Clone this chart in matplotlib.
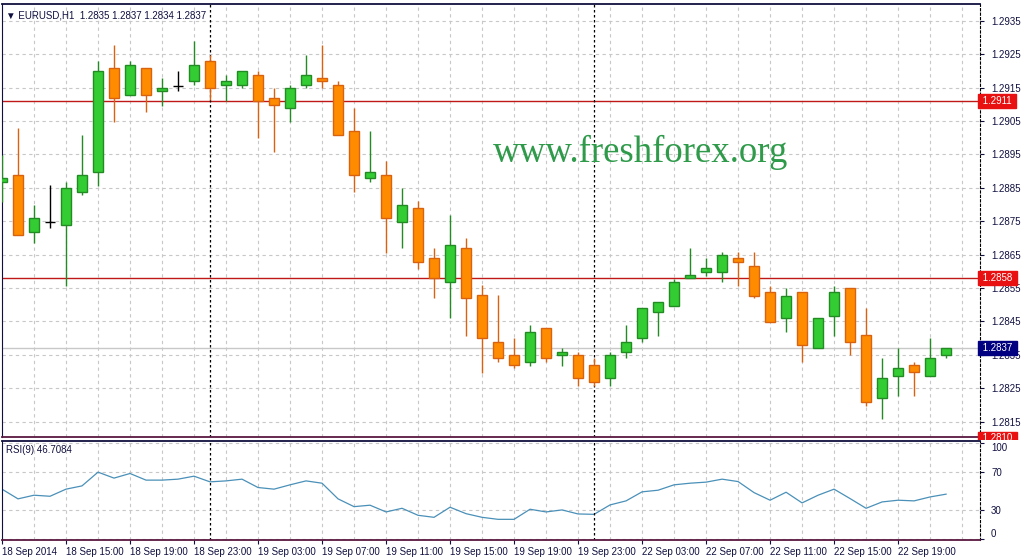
import matplotlib
matplotlib.use("Agg")
import matplotlib.pyplot as plt
import matplotlib.transforms as mtransforms
import numpy as np

plt.rcParams['font.family'] = ['Liberation Sans', 'DejaVu Sans']

# EURUSD H1 candles, 18 Sep 11:00 .. 22 Sep 22:00
opens = [1.28867, 1.28888, 1.28717, 1.28749, 1.28739, 1.28838, 1.28898, 1.29208, 1.29127, 1.29208,
         1.29139, 1.29155, 1.29169, 1.29229, 1.29157, 1.29157, 1.29188, 1.29118, 1.29088, 1.29157,
         1.29178, 1.29158, 1.29020, 1.28878, 1.28888, 1.28749, 1.28789, 1.28639, 1.28567, 1.28669,
         1.28529, 1.28388, 1.28350, 1.28328, 1.28430, 1.28348, 1.28350, 1.28320, 1.28280, 1.28358,
         1.28400, 1.28477, 1.28497, 1.28579, 1.28597, 1.28597, 1.28639, 1.28617, 1.28537, 1.28460,
         1.28537, 1.28370, 1.28467, 1.28549, 1.28410, 1.28220, 1.28288, 1.28320, 1.28288, 1.28350]
highs = [1.28948, 1.29028, 1.28799, 1.28858, 1.28868, 1.29008, 1.29229, 1.29277, 1.29229, 1.29208,
         1.29179, 1.29199, 1.29289, 1.29247, 1.29188, 1.29199, 1.29199, 1.29148, 1.29158, 1.29247,
         1.29277, 1.29170, 1.29090, 1.29020, 1.28930, 1.28849, 1.28811, 1.28669, 1.28769, 1.28699,
         1.28559, 1.28529, 1.28400, 1.28439, 1.28430, 1.28370, 1.28358, 1.28340, 1.28358, 1.28439,
         1.28489, 1.28507, 1.28577, 1.28669, 1.28639, 1.28657, 1.28659, 1.28659, 1.28557, 1.28549,
         1.28537, 1.28460, 1.28557, 1.28549, 1.28489, 1.28340, 1.28370, 1.28328, 1.28400, 1.28370]
lows = [1.28808, 1.28709, 1.28686, 1.28729, 1.28556, 1.28828, 1.28856, 1.29048, 1.29127, 1.29078,
        1.29095, 1.29140, 1.29158, 1.29113, 1.29110, 1.29148, 1.28998, 1.28958, 1.29048, 1.29148,
        1.29148, 1.29008, 1.28838, 1.28868, 1.28656, 1.28669, 1.28607, 1.28519, 1.28460, 1.28407,
        1.28297, 1.28328, 1.28310, 1.28318, 1.28328, 1.28318, 1.28258, 1.28258, 1.28258, 1.28340,
        1.28388, 1.28407, 1.28497, 1.28579, 1.28587, 1.28567, 1.28557, 1.28519, 1.28448, 1.28418,
        1.28328, 1.28370, 1.28407, 1.28348, 1.28198, 1.28158, 1.28228, 1.28228, 1.28288, 1.28340]
closes = [1.28879, 1.28709, 1.28759, 1.28749, 1.28849, 1.28888, 1.29199, 1.29118, 1.29217, 1.29127,
          1.29148, 1.29155, 1.29217, 1.29148, 1.29170, 1.29199, 1.29110, 1.29098, 1.29148, 1.29188,
          1.29169, 1.29008, 1.28888, 1.28898, 1.28759, 1.28799, 1.28627, 1.28579, 1.28678, 1.28519,
          1.28400, 1.28340, 1.28320, 1.28418, 1.28340, 1.28358, 1.28280, 1.28268, 1.28350, 1.28388,
          1.28489, 1.28507, 1.28567, 1.28589, 1.28609, 1.28648, 1.28627, 1.28527, 1.28448, 1.28527,
          1.28380, 1.28460, 1.28537, 1.28388, 1.28208, 1.28280, 1.28310, 1.28298, 1.28340, 1.28370]

# RSI(9)
rsi = [51.9, 41.8, 45.6, 44.5, 51.9, 55.3, 69.6, 63.4, 68.2, 61.3,
       61.3, 62.3, 65.4, 59.5, 60.5, 62.3, 53.6, 51.9, 56.4, 60.5,
       58.1, 41.8, 33.7, 35.2, 28.2, 32.0, 24.7, 22.6, 33.1, 26.4,
       22.6, 20.5, 20.5, 31.0, 28.2, 30.3, 26.1, 25.7, 35.5, 39.7,
       49.1, 50.8, 56.4, 58.1, 59.2, 62.3, 59.8, 48.3, 40.4, 48.7,
       37.6, 45.6, 51.9, 42.1, 32.0, 38.6, 40.4, 39.7, 43.8, 46.7]

time_labels = ["18 Sep 2014", "18 Sep 15:00", "18 Sep 19:00", "18 Sep 23:00", "19 Sep 03:00",
               "19 Sep 07:00", "19 Sep 11:00", "19 Sep 15:00", "19 Sep 19:00", "19 Sep 23:00",
               "22 Sep 03:00", "22 Sep 07:00", "22 Sep 11:00", "22 Sep 15:00", "22 Sep 19:00"]
price_ticks = [1.2935, 1.2925, 1.2915, 1.2905, 1.2895, 1.2885, 1.2875, 1.2865,
               1.2855, 1.2845, 1.2835, 1.2825, 1.2815]
levels = [1.2911, 1.2858]
low_mark = 1.2810
separators = [13, 37]   # day separators (bar index)

W, H = 1023, 557
fig = plt.figure(figsize=(W / 100, H / 100), dpi=100)
ax = fig.add_axes([2 / W, (H - 437) / H, 978 / W, 433 / H])
ax2 = fig.add_axes([2 / W, (H - 540) / H, 978 / W, 99 / H])

txt = '#101040'
up_fill, up_edge = '#33cc33', '#238b23'
dn_fill, dn_edge = '#ff8c00', '#d9620f'
grid_kw = dict(color='#c8c8c8', linestyle=(0, (3, 3)), linewidth=0.8)

x = np.arange(len(opens))
o = np.array(opens); c = np.array(closes)
hi = np.array(highs); lo = np.array(lows)
up = c > o
dn = c < o
doji = c == o

# wicks
ax.vlines(x[up], lo[up], hi[up], color=up_edge, linewidth=1, zorder=3)
ax.vlines(x[dn], lo[dn], hi[dn], color=dn_edge, linewidth=1, zorder=3)
ax.vlines(x[doji], lo[doji], hi[doji], color='black', linewidth=1, zorder=3)
ax.hlines(o[doji], x[doji] - 0.32, x[doji] + 0.32, color='black', linewidth=1, zorder=3)
# bodies
ax.bar(x[up], (c - o)[up], bottom=o[up], width=0.64, color=up_fill,
       edgecolor=up_edge, linewidth=1, zorder=4)
ax.bar(x[dn], (o - c)[dn], bottom=c[dn], width=0.64, color=dn_fill,
       edgecolor=dn_edge, linewidth=1, zorder=4)

for lv in levels:
    ax.axhline(lv, color='#c01818', linewidth=1, zorder=2)
ax.axhline(closes[-1], color='#c8c8c8', linewidth=1, zorder=2)

ax.set_xlim(0, 61.12)
ax.set_ylim(1.28104, 1.29400)
ax2.set_xlim(0, 61.12)
ax2.set_ylim(-1, 102)

ax2.plot(x, rsi, color='#4a90b8', linewidth=0.9)

for a in (ax, ax2):
    a.set_xticks(np.arange(0, 61, 2), minor=True)
    a.grid(True, which='both', axis='x', **grid_kw)
    a.grid(True, which='major', axis='y', **grid_kw)
    a.set_axisbelow(True)
    for s in separators:
        a.axvline(s, color='black', linestyle=(0, (2, 2)), linewidth=0.9, zorder=2.2)
    a.yaxis.tick_right()
    a.tick_params(axis='y', which='both', direction='out', length=3, width=0.8,
                  colors=txt, labelsize=7, pad=5)
    a.tick_params(axis='x', which='minor', length=0)
    a.spines['right'].set_linestyle((0, (2, 2)))
    a.spines['right'].set_color('black')
    a.spines['left'].set_color('#101040')
    a.spines['top'].set_color('#101040')
    a.spines['bottom'].set_color('#5a1840')
    a.spines['bottom'].set_linewidth(1.3)
    a.spines['top'].set_linewidth(1.3)

ax.set_yticks(price_ticks)
ax.set_yticklabels([f"{p:.4f}" for p in price_ticks])
ax.set_xticks(np.arange(0, 61, 4))
ax.tick_params(axis='x', which='major', length=0, labelbottom=False)

ax2.set_yticks([0, 30, 70, 100])
ax2.set_yticklabels(['0', '30', '70', '100'])
ax2.get_yticklabels()[0].set_va('bottom')
ax2.get_yticklabels()[3].set_va('top')
ax2.set_xticks(np.arange(0, 4 * len(time_labels), 4))
ax2.set_xticklabels(time_labels, ha='left')
ax2.tick_params(axis='x', which='major', direction='out', length=3, width=0.8,
                colors=txt, labelsize=7, pad=2)

# price boxes on the right scale
trans = mtransforms.blended_transform_factory(ax.transAxes, ax.transData)
box_items = [(levels[0], '#e81010'), (levels[1], '#e81010'), (closes[-1], '#000080')]
for val, col in box_items:
    ax.text(1.0, val, f" {val:.4f} ", transform=trans, ha='left', va='center',
            fontsize=7, color='white', clip_on=False, zorder=6,
            bbox=dict(boxstyle='square,pad=0.18', facecolor=col, edgecolor=col))

# bottom box is cut by the RSI window
clip = mtransforms.TransformedBbox(mtransforms.Bbox([[0, (H - 440) / H], [1, 1]]), fig.transFigure)
t = ax.text(1.0, low_mark, f" {low_mark:.4f} ", transform=trans, ha='left', va='center',
            fontsize=7, color='white', zorder=6,
            bbox=dict(boxstyle='square,pad=0.18', facecolor='#e81010', edgecolor='#e81010'))
t.set_clip_on(True)
t.set_clip_path(None)
t.set_clip_box(clip)
t.get_bbox_patch().set_clip_box(clip)

ax.text(0.502, 0.635, "www.freshforex.org", transform=ax.transAxes, ha='left', va='baseline',
        fontsize=26.5, color='#2e9a4a', family='Liberation Serif')
ax.text(0.004, 0.985, "\u25bc EURUSD,H1  1.2835 1.2837 1.2834 1.2837", transform=ax.transAxes,
        ha='left', va='top', fontsize=7, color=txt)
ax2.text(0.004, 0.91, "RSI(9) 46.7084", transform=ax2.transAxes, ha='left', va='center',
         fontsize=7, color=txt)

fig.savefig("out.png", dpi=100)
